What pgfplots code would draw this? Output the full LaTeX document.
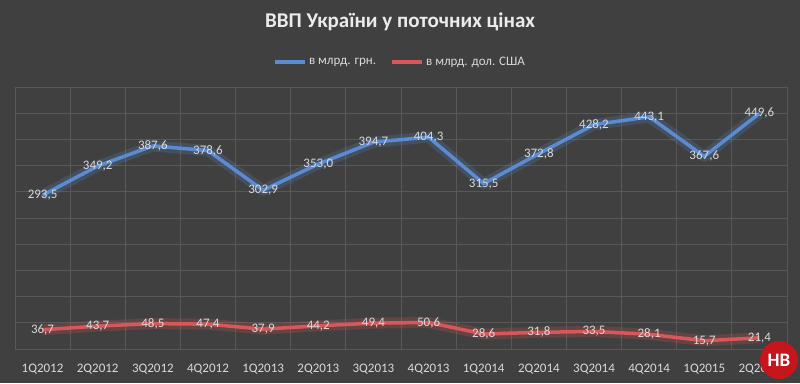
\documentclass[border=0pt]{standalone}
\usepackage{pgfplots}
\pgfplotsset{compat=1.18}
\usepackage{fontspec}
\setmainfont{Carlito}
\definecolor{bg}{HTML}{404040}
\definecolor{gridc}{HTML}{585858}
\definecolor{txt}{HTML}{D9D9D9}
\definecolor{blueline}{HTML}{5B8BD0}
\definecolor{redline}{HTML}{D9575A}
\definecolor{logored}{HTML}{C4161C}
\begin{document}
\begin{tikzpicture}[x=1pt,y=1pt]
\fill[bg] (0,0) rectangle (800,383);
\node[text=white!92!black, font=\bfseries\fontsize{21}{24}\selectfont] at (400,361) {ВВП України у поточних цінах};
\begin{axis}[
  at={(15pt,34pt)}, anchor=south west,
  scale only axis, width=772pt, height=262pt,
  xmin=-0.5, xmax=13.5, ymin=0, ymax=500,
  axis line style={draw=none},
  major tick length=0pt, minor tick length=0pt,
  xtick={0,...,13},
  xticklabels={1Q2012,2Q2012,3Q2012,4Q2012,1Q2013,2Q2013,3Q2013,4Q2013,1Q2014,2Q2014,3Q2014,4Q2014,1Q2015,2Q2015},
  ytick={0,50,...,500}, yticklabels={},
  ymajorgrids,
  minor xtick={-0.5,0.5,...,13.5}, xminorgrids,
  grid style={gridc, line width=1pt},
  minor grid style={gridc, line width=1pt},
  ticklabel style={text=txt, font=\fontsize{13}{15}\selectfont},
  xticklabel style={yshift=-12pt},
  legend columns=2,
  legend style={at={(0.4987,1.095)}, anchor=center, draw=none, fill=none, text=txt,
    font=\fontsize{13}{15}\selectfont,
    /tikz/every even column/.append style={column sep=12pt}},
  legend image code/.code={\draw[#1, line width=4pt] (0pt,0pt) -- (30pt,0pt);},
  nodes near coords={\pgfmathprintnumber[fixed,fixed zerofill,precision=1,use comma,assume math mode=true]{\pgfplotspointmeta}},
  every node near coord/.append style={anchor=center, text=txt, font=\fontsize{13}{15}\selectfont},
]
% glow
\addplot[blueline, opacity=0.22, line width=11pt, line join=round, forget plot, nodes near coords={}] coordinates {
(0,293.5)(1,349.2)(2,387.6)(3,378.6)(4,302.9)(5,353.0)(6,394.7)(7,404.3)(8,315.5)(9,372.8)(10,428.2)(11,443.1)(12,367.6)(13,449.6)};
\addplot[redline, opacity=0.22, line width=11pt, line join=round, forget plot, nodes near coords={}] coordinates {
(0,36.7)(1,43.7)(2,48.5)(3,47.4)(4,37.9)(5,44.2)(6,49.4)(7,50.6)(8,28.6)(9,31.8)(10,33.5)(11,28.1)(12,15.7)(13,21.4)};
% main lines
\addplot[blueline, line width=3.5pt, line join=round] coordinates {
(0,293.5)(1,349.2)(2,387.6)(3,378.6)(4,302.9)(5,353.0)(6,394.7)(7,404.3)(8,315.5)(9,372.8)(10,428.2)(11,443.1)(12,367.6)(13,449.6)};
\addlegendentry{в млрд. грн.}
\addplot[redline, line width=3.5pt, line join=round] coordinates {
(0,36.7)(1,43.7)(2,48.5)(3,47.4)(4,37.9)(5,44.2)(6,49.4)(7,50.6)(8,28.6)(9,31.8)(10,33.5)(11,28.1)(12,15.7)(13,21.4)};
\addlegendentry{в млрд. дол. США}
\end{axis}
\fill[logored] (779,23) circle (19);
\node[text=white, font=\bfseries\fontsize{19}{20}\selectfont] at (779,23) {НВ};
\end{tikzpicture}
\end{document}
